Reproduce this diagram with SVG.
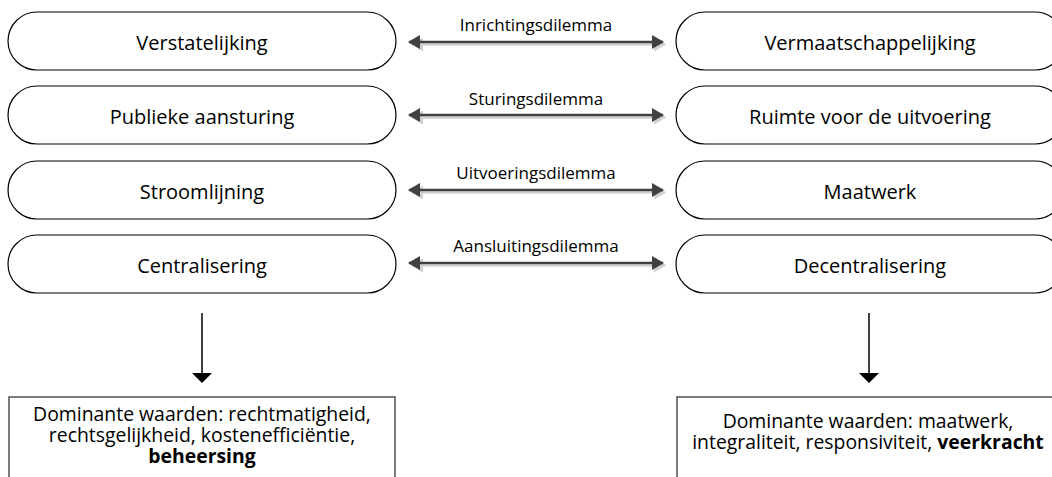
<svg xmlns="http://www.w3.org/2000/svg" width="1052" height="477" viewBox="0 0 1052 477">
<style>
.pill{fill:#fff;stroke:#000;stroke-width:1.2}
.box{fill:#fff;stroke:#5a5a5a;stroke-width:1.6}
.t{font-family:"Open Sans","Noto Sans",sans-serif;font-size:20px;fill:#000;text-anchor:middle}
.bt{font-family:"Open Sans","Noto Sans",sans-serif;font-size:19.4px;fill:#000;text-anchor:middle}
.lbl{font-family:"Open Sans","Noto Sans",sans-serif;font-size:17px;fill:#000;text-anchor:middle}
.dl{stroke:#404040;stroke-width:2.5;fill:none}
.sh{stroke:#d0d0d0;stroke-width:2.5;fill:none}
.dn{stroke:#000;stroke-width:1.5;fill:none}
.b{font-weight:bold}
</style>
<defs>
<marker id="ah" viewBox="0 0 12 14" refX="11" refY="7" markerWidth="12" markerHeight="14" markerUnits="userSpaceOnUse" orient="auto-start-reverse">
<path d="M0,0 L12,7 L0,14 Z" fill="#404040"/>
</marker>
<marker id="ahs" viewBox="0 0 12 14" refX="11" refY="7" markerWidth="12" markerHeight="14" markerUnits="userSpaceOnUse" orient="auto-start-reverse">
<path d="M0,0 L12,7 L0,14 Z" fill="#d0d0d0"/>
</marker>
</defs>
<g id="left-pills">
<g id="verstatelijking"><rect class="pill" x="8" y="12" width="388" height="58" rx="29"/><text class="t" x="202" y="50">Verstatelijking</text></g>
<g id="publieke-aansturing"><rect class="pill" x="8" y="86" width="388" height="58" rx="29"/><text class="t" x="202" y="124">Publieke aansturing</text></g>
<g id="stroomlijning"><rect class="pill" x="8" y="161" width="388" height="58" rx="29"/><text class="t" x="202" y="199">Stroomlijning</text></g>
<g id="centralisering"><rect class="pill" x="8" y="235" width="388" height="58" rx="29"/><text class="t" x="202" y="273">Centralisering</text></g>
</g>
<g id="right-pills">
<g id="vermaatschappelijking"><rect class="pill" x="676" y="12" width="388" height="58" rx="29"/><text class="t" x="870" y="50">Vermaatschappelijking</text></g>
<g id="ruimte"><rect class="pill" x="676" y="86" width="388" height="58" rx="29"/><text class="t" x="870" y="124">Ruimte voor de uitvoering</text></g>
<g id="maatwerk"><rect class="pill" x="676" y="161" width="388" height="58" rx="29"/><text class="t" x="870" y="199">Maatwerk</text></g>
<g id="decentralisering"><rect class="pill" x="676" y="235" width="388" height="58" rx="29"/><text class="t" x="870" y="273">Decentralisering</text></g>
</g>
<g id="left-box"><rect class="box" x="9" y="397" width="386" height="100"/>
<text class="bt" x="202" y="421">Dominante waarden: rechtmatigheid,</text>
<text class="bt" x="202" y="442">rechtsgelijkheid, kostenefficiëntie,</text>
<text class="bt b" x="202" y="463">beheersing</text></g>
<g id="right-box"><rect class="box" x="677" y="397" width="386" height="100"/>
<text class="bt" x="868" y="428">Dominante waarden: maatwerk,</text>
<text class="bt" x="868" y="449">integraliteit, responsiviteit, <tspan class="b">veerkracht</tspan></text></g>
<g id="connectors">
<line class="sh" x1="412" y1="44.5" x2="665" y2="44.5" marker-start="url(#ahs)" marker-end="url(#ahs)"/>
<line class="dl" x1="409" y1="42" x2="663" y2="42" marker-start="url(#ah)" marker-end="url(#ah)"/>
<line class="sh" x1="412" y1="117.5" x2="665" y2="117.5" marker-start="url(#ahs)" marker-end="url(#ahs)"/>
<line class="dl" x1="409" y1="115" x2="663" y2="115" marker-start="url(#ah)" marker-end="url(#ah)"/>
<line class="sh" x1="412" y1="192.5" x2="665" y2="192.5" marker-start="url(#ahs)" marker-end="url(#ahs)"/>
<line class="dl" x1="409" y1="190" x2="663" y2="190" marker-start="url(#ah)" marker-end="url(#ah)"/>
<line class="sh" x1="412" y1="265.5" x2="665" y2="265.5" marker-start="url(#ahs)" marker-end="url(#ahs)"/>
<line class="dl" x1="409" y1="263" x2="663" y2="263" marker-start="url(#ah)" marker-end="url(#ah)"/>
<text class="lbl" x="536" y="31">Inrichtingsdilemma</text>
<text class="lbl" x="536" y="105">Sturingsdilemma</text>
<text class="lbl" x="536" y="179">Uitvoeringsdilemma</text>
<text class="lbl" x="536" y="252">Aansluitingsdilemma</text>
<line class="dn" x1="202" y1="313" x2="202" y2="375"/>
<path d="M192,373 L212,373 L202,383 Z" fill="#000"/>
<line class="dn" x1="869" y1="313" x2="869" y2="375"/>
<path d="M859,373 L879,373 L869,383 Z" fill="#000"/>
</g>
</svg>
